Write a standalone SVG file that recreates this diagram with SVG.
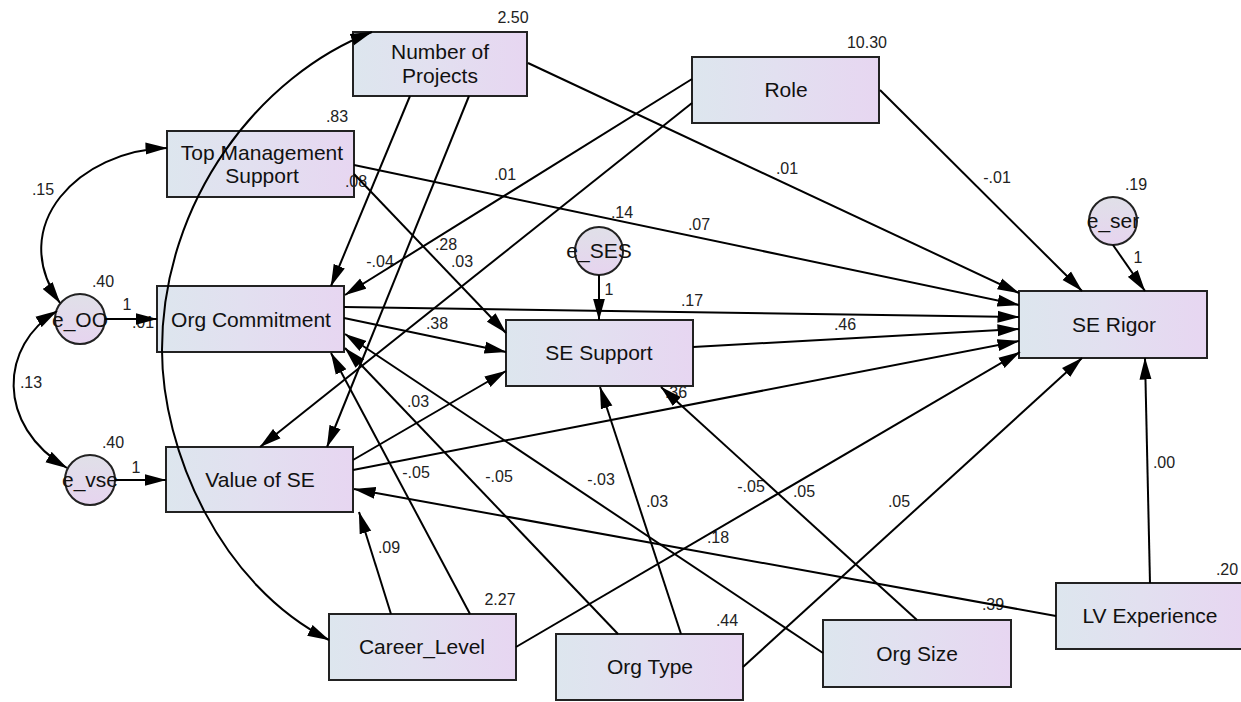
<svg xmlns="http://www.w3.org/2000/svg" width="1241" height="702" viewBox="0 0 1241 702">
<style>
.box{fill:url(#gb);stroke:#222;stroke-width:2}
.cir{fill:url(#gc);stroke:#222;stroke-width:2}
.nt{font-family:"Liberation Sans",Arial,sans-serif;font-size:21px;fill:#111;text-anchor:middle}
.lb{font-family:"Liberation Sans",Arial,sans-serif;font-size:16px;fill:#222;text-anchor:middle}
.e{fill:none;stroke:#000;stroke-width:2;marker-end:url(#ah)}
.d{fill:none;stroke:#000;stroke-width:2;marker-start:url(#ah);marker-end:url(#ah)}
</style>
<defs>
<linearGradient id="gb" x1="0" y1="0" x2="1" y2="0">
<stop offset="0" stop-color="#dde6ee"/>
<stop offset="0.45" stop-color="#e2e0f0"/>
<stop offset="1" stop-color="#e7d6f1"/>
</linearGradient>
<linearGradient id="gc" x1="0" y1="0" x2="0" y2="1">
<stop offset="0" stop-color="#e0e0e8"/>
<stop offset="1" stop-color="#e6d4ef"/>
</linearGradient>
<marker id="ah" viewBox="0 0 22 13" refX="21.5" refY="6.5" markerWidth="22" markerHeight="13" markerUnits="userSpaceOnUse" orient="auto-start-reverse">
<path d="M0,0.5 L22,6.5 L0,12.5 z" fill="#000"/>
</marker>
</defs>
<rect width="1241" height="702" fill="#fff"/>

<g id="nodes">
<g id="n-projects"><rect class="box" x="353" y="32" width="174" height="64"/><text class="nt" x="440" y="59">Number of</text><text class="nt" x="440" y="83">Projects</text></g>
<g id="n-tms"><rect class="box" x="167" y="131" width="187" height="66"/><text class="nt" x="262" y="160">Top Management</text><text class="nt" x="262" y="183">Support</text></g>
<g id="n-role"><rect class="box" x="692" y="57" width="187" height="66"/><text class="nt" x="786" y="97">Role</text></g>
<g id="n-oc"><rect class="box" x="157" y="286" width="187" height="66"/><text class="nt" x="251" y="327">Org Commitment</text></g>
<g id="n-vse"><rect class="box" x="166" y="447" width="187" height="65"/><text class="nt" x="260" y="487">Value of SE</text></g>
<g id="n-ses"><rect class="box" x="506" y="320" width="187" height="66"/><text class="nt" x="599" y="360">SE Support</text></g>
<g id="n-ser"><rect class="box" x="1019" y="291" width="188" height="67"/><text class="nt" x="1114" y="332">SE Rigor</text></g>
<g id="n-cl"><rect class="box" x="329" y="614" width="187" height="66"/><text class="nt" x="422" y="654">Career_Level</text></g>
<g id="n-ot"><rect class="box" x="556" y="634" width="187" height="66"/><text class="nt" x="650" y="674">Org Type</text></g>
<g id="n-os"><rect class="box" x="823" y="620" width="188" height="67"/><text class="nt" x="917" y="661">Org Size</text></g>
<g id="n-lv"><rect class="box" x="1056" y="583" width="187" height="66"/><text class="nt" x="1150" y="623">LV Experience</text></g>
<g id="n-eoo"><circle class="cir" cx="80" cy="319" r="25"/><text class="nt" x="80" y="327">e_OO</text></g>
<g id="n-evse"><circle class="cir" cx="90" cy="480" r="25"/><text class="nt" x="90" y="487">e_vse</text></g>
<g id="n-eses"><circle class="cir" cx="599" cy="251" r="24"/><text class="nt" x="599" y="258">e_SES</text></g>
<g id="n-eser"><circle class="cir" cx="1113" cy="221" r="24"/><text class="nt" x="1113" y="228">e_ser</text></g>
</g>

<g id="labels">
<text class="lb" x="513" y="23">2.50</text>
<text class="lb" x="337" y="122">.83</text>
<text class="lb" x="867" y="48">10.30</text>
<text class="lb" x="1136" y="190">.19</text>
<text class="lb" x="103" y="287">.40</text>
<text class="lb" x="127" y="310">1</text>
<text class="lb" x="143" y="328">.01</text>
<text class="lb" x="43" y="195">.15</text>
<text class="lb" x="31" y="388">.13</text>
<text class="lb" x="113" y="448">.40</text>
<text class="lb" x="136" y="473">1</text>
<text class="lb" x="389" y="553">.09</text>
<text class="lb" x="500" y="605">2.27</text>
<text class="lb" x="727" y="626">.44</text>
<text class="lb" x="1227" y="575">.20</text>
<text class="lb" x="993" y="610">.39</text>
<text class="lb" x="1164" y="468">.00</text>
<text class="lb" x="899" y="507">.05</text>
<text class="lb" x="751" y="492">-.05</text>
<text class="lb" x="804" y="497">.05</text>
<text class="lb" x="718" y="543">.18</text>
<text class="lb" x="657" y="507">.03</text>
<text class="lb" x="601" y="485">-.03</text>
<text class="lb" x="499" y="482">-.05</text>
<text class="lb" x="416" y="478">-.05</text>
<text class="lb" x="418" y="407">.03</text>
<text class="lb" x="676" y="398">.36</text>
<text class="lb" x="437" y="329">.38</text>
<text class="lb" x="692" y="306">.17</text>
<text class="lb" x="609" y="295">1</text>
<text class="lb" x="446" y="250">.28</text>
<text class="lb" x="462" y="267">.03</text>
<text class="lb" x="380" y="267">-.04</text>
<text class="lb" x="356" y="187">.08</text>
<text class="lb" x="505" y="180">.01</text>
<text class="lb" x="622" y="218">.14</text>
<text class="lb" x="699" y="230">.07</text>
<text class="lb" x="787" y="174">.01</text>
<text class="lb" x="997" y="183">-.01</text>
<text class="lb" x="1138" y="263">1</text>
<text class="lb" x="845" y="330">.46</text>
</g>

<g id="connectors">
<line class="e" x1="528" y1="63" x2="1019" y2="293"/>
<line class="e" x1="354" y1="165" x2="1019" y2="305"/>
<line class="e" x1="344" y1="307" x2="1019" y2="317"/>
<line class="e" x1="693" y1="347" x2="1019" y2="329"/>
<line class="e" x1="353" y1="470" x2="1019" y2="341"/>
<line class="e" x1="516" y1="647" x2="1020" y2="352"/>
<line class="e" x1="743" y1="667" x2="1082" y2="358"/>
<line class="e" x1="880" y1="90" x2="1082" y2="291"/>
<line class="e" x1="1113" y1="245" x2="1145" y2="291"/>
<line class="e" x1="1150" y1="583" x2="1145" y2="358"/>
<line class="e" x1="599" y1="275" x2="599" y2="320"/>
<line class="e" x1="354" y1="174" x2="506" y2="333"/>
<line class="e" x1="344" y1="318" x2="506" y2="352"/>
<line class="e" x1="353" y1="460" x2="506" y2="371"/>
<line class="e" x1="681" y1="634" x2="600" y2="387"/>
<line class="e" x1="917" y1="620" x2="661" y2="387"/>
<line class="e" x1="105" y1="319" x2="157" y2="319"/>
<line class="e" x1="410" y1="96" x2="331" y2="286"/>
<line class="e" x1="692" y1="79" x2="345" y2="295"/>
<line class="e" x1="470" y1="614" x2="331" y2="353"/>
<line class="e" x1="618" y1="634" x2="345" y2="348"/>
<line class="e" x1="823" y1="653" x2="345" y2="334"/>
<line class="e" x1="115" y1="480" x2="166" y2="480"/>
<line class="e" x1="692" y1="103" x2="260" y2="447"/>
<line class="e" x1="469" y1="96" x2="327" y2="447"/>
<line class="e" x1="1056" y1="616" x2="354" y2="489"/>
<line class="e" x1="391" y1="614" x2="359" y2="512"/>
<path class="d" d="M167 148 C80 150 5 225 60 303"/>
<path class="d" d="M57 311 C0 345 -5 425 67 468"/>
<path class="d" d="M372 32 C260 75 162 200 162 350 C162 450 220 585 329 640"/>
</g>
</svg>
